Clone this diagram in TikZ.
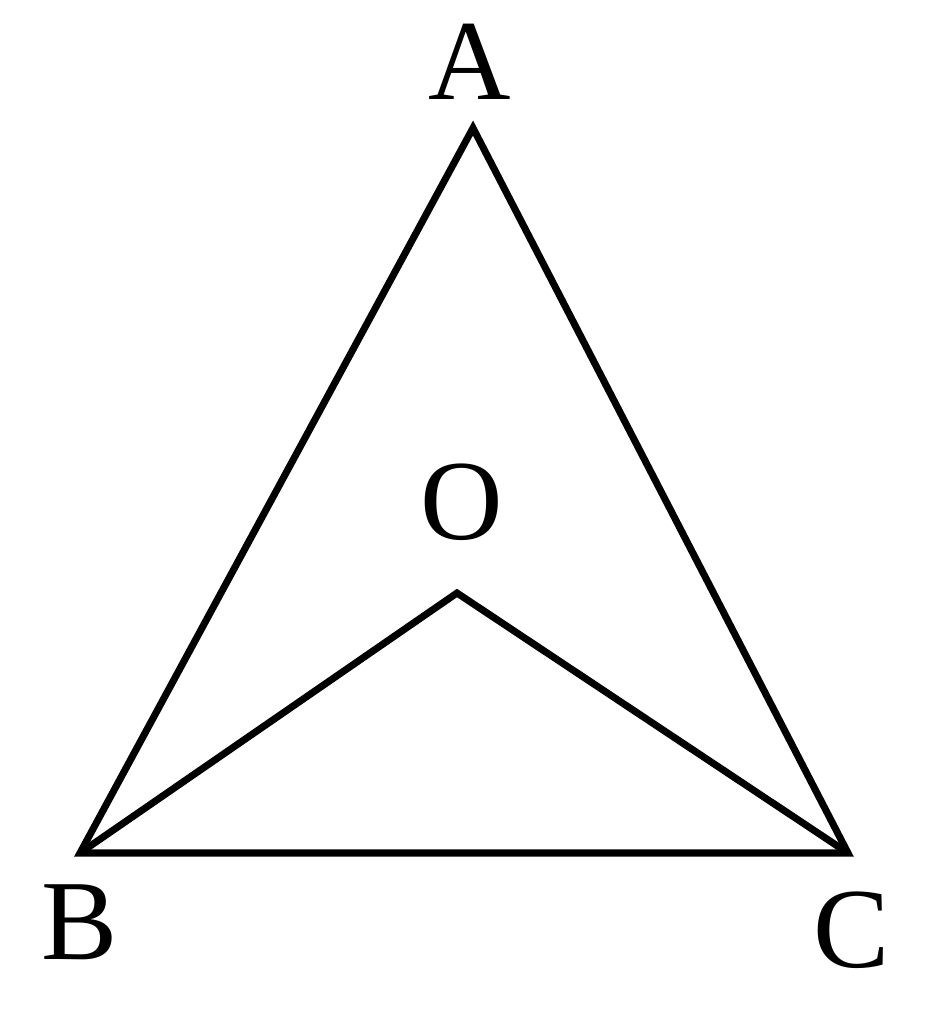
\documentclass[tikz,border=0pt]{standalone}
\usepackage{fontspec}
\setmainfont{Liberation Serif}
\begin{document}
\begin{tikzpicture}
  [edge/.style={line width=4pt},
   pointlabel/.style={font=\fontsize{65}{70}\selectfont, inner sep=0pt}]
  \useasboundingbox (0,0) rectangle (18.7,-20.48);
  % vertices
  \coordinate (A) at (9.46,-2.56);
  \coordinate (B) at (1.6,-17.06);
  \coordinate (C) at (16.96,-17.06);
  \coordinate (O) at (9.14,-11.86);
  % labels
  \node[pointlabel] (labA) at (9.4,-1.24) {A};
  \node[pointlabel] (labO) at (9.24,-10.04) {O};
  \node[pointlabel] (labB) at (1.6,-18.44) {B};
  \node[pointlabel] (labC) at (17.04,-18.6) {C};
  % triangle and inner angle
  \draw[edge] (A) -- (B) -- (C) -- cycle;
  \draw[edge] (B) -- (O) -- (C);
\end{tikzpicture}
\end{document}
